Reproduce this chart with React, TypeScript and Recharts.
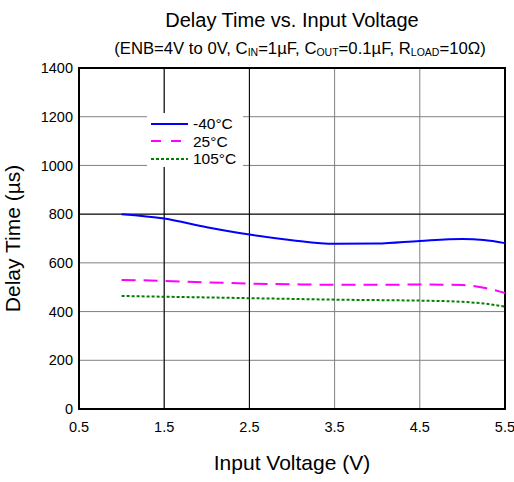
import { LineChart, Line, XAxis, YAxis, CartesianGrid, ReferenceArea, ReferenceLine, Label } from "recharts"

const voltages = [1.0, 1.5, 2.0, 2.5, 3.0, 3.5, 4.0, 4.5, 5.0, 5.25, 5.5]
const coldDelay = [800, 782, 746, 716, 693, 678, 679, 690, 698, 694, 681]
const roomDelay = [530, 526, 520, 515, 512, 510, 510, 511, 509, 498, 476]
const hotDelay = [464, 461, 458, 455, 452, 449, 447, 445, 440, 433, 420]
const xTicks = [0.5, 1.5, 2.5, 3.5, 4.5, 5.5]
const yTicks = [0, 200, 400, 600, 800, 1000, 1200, 1400]
// gridlines that print darker in the original
const darkX = [1.5, 2.5]
const darkY = [800]

const series = [
  { key: "cold", name: "-40°C", color: "#0000ff", dash: undefined as string | undefined },
  { key: "room", name: "25°C", color: "#ff00ff", dash: "14 8" },
  { key: "hot", name: "105°C", color: "#008000", dash: "3 2" },
]

const data = voltages.map((v, i) => ({ v, cold: coldDelay[i], room: roomDelay[i], hot: hotDelay[i] }))

const font = "'Liberation Sans', Arial, sans-serif"
const sub = { fontSize: 10.5, verticalAlign: "-2px" }

function LegendBox() {
  return (
    <div style={{ position: "absolute", left: 147, top: 113, width: 96, height: 54, background: "#fff", boxSizing: "border-box", padding: "2px 0 0 4px", fontSize: 15.5, lineHeight: "17.5px" }}>
      {series.map((s) => (
        <div key={s.key} style={{ display: "flex", alignItems: "center" }}>
          <svg width={37} height={6} style={{ marginRight: 5 }}>
            <line x1={0} y1={3} x2={37} y2={3} stroke={s.color} strokeWidth={2}
              strokeDasharray={s.key === "room" ? "10 10" : s.dash} />
          </svg>
          <span>{s.name}</span>
        </div>
      ))}
    </div>
  )
}

export default function App() {
  return (
    <div style={{ position: "absolute", left: 0, top: 0, width: 514, height: 482, background: "#fff", fontFamily: font }}>
      <div style={{ position: "absolute", top: 9, width: 584, textAlign: "center", fontSize: 20 }}>
        Delay Time vs. Input Voltage
      </div>
      <div style={{ position: "absolute", top: 39, width: 600, textAlign: "center", fontSize: 16.7 }}>
        (ENB=4V to 0V, C<span style={sub}>IN</span>=1µF, C<span style={sub}>OUT</span>=0.1µF, R<span style={sub}>LOAD</span>=10Ω)
      </div>
      <LineChart width={514} height={482} data={data} margin={{ top: 68, right: 9, bottom: 43, left: 29 }}
        style={{ position: "absolute", left: 0, top: 0 }}>
        <CartesianGrid stroke="#808080" strokeWidth={1} />
        {darkX.map((x) => <ReferenceLine key={"x" + x} x={x} stroke="#000" strokeWidth={1} />)}
        {darkY.map((y) => <ReferenceLine key={"y" + y} y={y} stroke="#000" strokeWidth={1} />)}
        <XAxis dataKey="v" type="number" domain={[0.5, 5.5]} ticks={xTicks} tickFormatter={(t: number) => t.toFixed(1)}
          tickLine={false} axisLine={false} tick={{ fill: "#000", fontSize: 14.5, fontFamily: font }} tickMargin={7} height={30}>
          <Label value="Input Voltage (V)" position="bottom" offset={16} style={{ fill: "#000", fontSize: 21, fontFamily: font }} />
        </XAxis>
        <YAxis type="number" domain={[0, 1400]} ticks={yTicks} tickLine={false} axisLine={false} width={50}
          tick={{ fill: "#000", fontSize: 14.5, fontFamily: font }} tickMargin={0} interval={0}>
          <Label value="Delay Time (µs)" angle={-90} position="insideLeft" offset={-16} style={{ fill: "#000", fontSize: 21, fontFamily: font, textAnchor: "middle" }} />
        </YAxis>
        <ReferenceArea x1={0.5} x2={5.5} y1={0} y2={1400} fill="none" stroke="#000" strokeWidth={2} ifOverflow="visible" />
        {series.map((s) => (
          <Line key={s.key} dataKey={s.key} name={s.name} type="monotone" stroke={s.color} strokeWidth={2}
            strokeDasharray={s.dash} dot={false} isAnimationActive={false} />
        ))}
      </LineChart>
      <LegendBox />
    </div>
  )
}
